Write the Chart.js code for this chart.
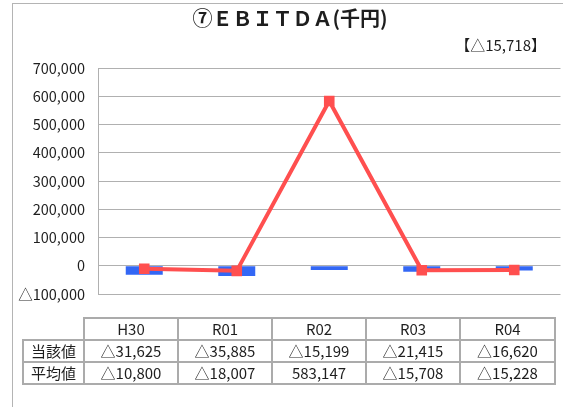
<!DOCTYPE html>
<html><head><meta charset="utf-8">
<script src="https://cdn.jsdelivr.net/npm/chart.js@4.4.0/dist/chart.umd.min.js"></script>
<style>
html,body{margin:0;padding:0;overflow:hidden;background:#fff;width:563px;height:407px;}
body{position:relative;font-family:"Noto Sans CJK JP","Noto Sans",sans-serif;color:#1e1e1e;}
#frame{position:absolute;left:12px;top:3px;width:600px;height:500px;border-left:1px solid #b4b4b4;border-top:1px solid #b4b4b4;}
#wrap{position:absolute;left:0;top:0;width:568px;height:407px;}
#title{position:absolute;left:0;width:580px;top:4px;text-align:center;font-weight:bold;font-size:20px;line-height:28px;}
#sub{position:absolute;right:17px;top:34px;font-size:15px;line-height:22px;}
#tbl{position:absolute;left:22px;top:317px;border-collapse:collapse;font-size:15px;table-layout:fixed;width:533px;}
#tbl td{border:2px solid #ababab;height:20px;line-height:20px;text-align:center;padding:0;white-space:nowrap;}
#tbl td.blank{border-top:none;border-left:none;}
</style>
</head><body>
<div id="frame"></div>
<div id="wrap"><canvas id="c" width="568" height="407"></canvas></div>
<div id="title"></div>
<div id="sub"></div>
<table id="tbl"></table>
<script>
const chartTitle = '⑦ＥＢＩＴＤＡ(千円)';
const headline = '【△15,718】';
const categories = ['H30','R01','R02','R03','R04'];
const rowLabels = ['当該値','平均値'];
const currentValues = [-31625,-35885,-15199,-21415,-16620];
const averageValues = [-10800,-18007,583147,-15708,-15228];
const yMin = -100000, yMax = 700000, yStep = 100000;

function fmt(v){
  const s = Math.abs(v).toLocaleString('en-US');
  return v < 0 ? '△' + s : s;
}

document.getElementById('title').textContent = chartTitle;
document.getElementById('sub').textContent = headline;

// data table
const tbl = document.getElementById('tbl');
const cg = document.createElement('colgroup');
[61,94,94,94,94,95].forEach(w=>{const c=document.createElement('col');c.style.width=w+'px';cg.appendChild(c);});
tbl.appendChild(cg);
const hr = tbl.insertRow();
const b = hr.insertCell(); b.className='blank';
categories.forEach(c=>{hr.insertCell().textContent=c;});
[currentValues, averageValues].forEach((arr,i)=>{
  const r = tbl.insertRow();
  r.insertCell().textContent = rowLabels[i];
  arr.forEach(v=>{r.insertCell().textContent = fmt(v);});
});

Chart.defaults.font.family = '"Noto Sans CJK JP","Noto Sans",sans-serif';
Chart.defaults.color = '#1e1e1e';

new Chart(document.getElementById('c'), {
  type: 'bar',
  data: {
    labels: categories,
    datasets: [
      {
        type: 'line',
        label: rowLabels[1],
        data: averageValues,
        borderColor: '#ff4f4f',
        backgroundColor: '#ff4f4f',
        borderWidth: 4,
        pointStyle: 'rect',
        pointRadius: 7.5,
        pointBorderWidth: 0,
        tension: 0,
        order: 1
      },
      {
        type: 'bar',
        label: rowLabels[0],
        data: currentValues,
        backgroundColor: '#3367f5',
        barPercentage: 0.4,
        categoryPercentage: 1,
        order: 2
      }
    ]
  },
  options: {
    responsive: false,
    animation: false,
    layout: { padding: { top: 68, bottom: 113, right: 1, left: 0 } },
    plugins: { legend: { display: false }, tooltip: { enabled: false }, title: { display: false } },
    scales: {
      x: { display: false, offset: true },
      y: {
        min: yMin, max: yMax,
        afterFit: s => { s.width = 98; },
        grid: { color: '#b0b0b0', lineWidth: 1, drawTicks: false },
        border: { display: true, color: '#b0b0b0', width: 1 },
        ticks: { stepSize: yStep, padding: 13, font: { size: 14.5 }, color: '#1e1e1e', callback: v => fmt(v) }
      }
    }
  }
});
</script>
</body></html>
